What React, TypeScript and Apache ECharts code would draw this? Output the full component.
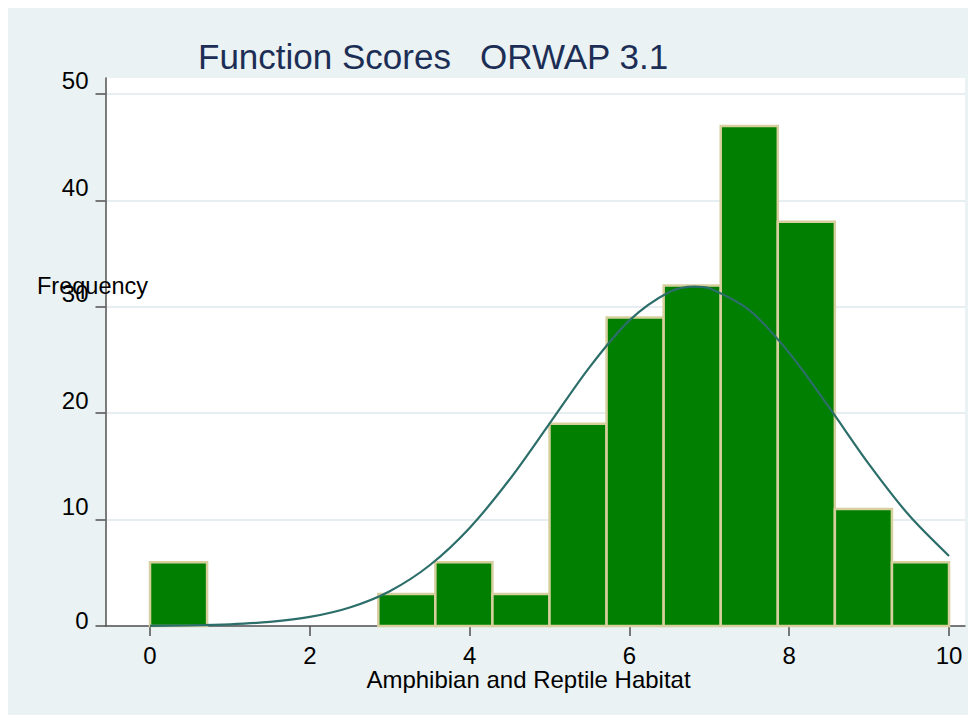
import React, { useEffect, useRef } from "react";
import * as echarts from "echarts";

// Histogram bins (14 equal bins from 0 to 10)
const binMin = 0;
const binMax = 10;
const counts = [6, 0, 0, 0, 3, 6, 3, 19, 29, 32, 47, 38, 11, 6];

// Normal density curve (scaled to frequency)
const curveX = [0, 0.5, 1, 1.5, 2, 2.5, 3, 3.5, 4, 4.5, 5, 5.5, 6, 6.5, 6.82, 7, 7.5, 8, 8.5, 9, 9.5, 10];
const curveY = [0.02, 0.06, 0.16, 0.39, 0.85, 1.74, 3.27, 5.71, 9.22, 13.77, 19.02, 24.31, 28.72, 31.39, 31.9, 31.74, 29.68, 25.67, 20.54, 15.19, 10.4, 6.58];

const xTicks = [0, 2, 4, 6, 8, 10];
const yTicks = [0, 10, 20, 30, 40, 50];

const titleText = "Function Scores   ORWAP 3.1";
const xTitle = "Amphibian and Reptile Habitat";
const yTitle = "Frequency";

const FONT = "'Liberation Sans', Arial, Helvetica, sans-serif";

export default function App() {
  const ref = useRef<HTMLDivElement>(null);
  useEffect(() => {
    document.documentElement.style.overflow = "hidden";
    const chart = echarts.init(ref.current!, null, { renderer: "svg" });
    const binWidth = (binMax - binMin) / counts.length;
    const barData = counts.map((c, i) => [binMin + i * binWidth, binMin + (i + 1) * binWidth, c]);
    const lineData = curveX.map((x, i) => [x, curveY[i]]);
    const axisColor = "#505050";
    chart.setOption({
      animation: false,
      backgroundColor: "#EAF2F3",
      grid: {
        left: 97.5,
        top: 70,
        width: 859.5,
        height: 548,
        show: true,
        backgroundColor: "#FFFFFF",
        borderWidth: 0,
      },
      xAxis: {
        type: "value",
        min: -0.557,
        max: 10.2,
        axisLine: { show: true, onZero: false, lineStyle: { color: axisColor, width: 1.5 } },
        axisTick: { show: true, length: 10, customValues: xTicks, lineStyle: { color: axisColor, width: 1.5 } },
        axisLabel: {
          customValues: xTicks,
          margin: 17,
          fontSize: 24,
          fontFamily: FONT,
          color: "#000000",
        },
        splitLine: { show: false },
      },
      yAxis: {
        type: "value",
        min: 0,
        max: 51.5,
        axisLine: { show: true, onZero: false, lineStyle: { color: axisColor, width: 1.5 } },
        axisTick: { show: true, length: 10, customValues: yTicks, lineStyle: { color: axisColor, width: 1.5 } },
        axisLabel: {
          customValues: yTicks,
          margin: 17,
          fontSize: 24,
          fontFamily: FONT,
          color: "#000000",
          formatter: (v: number) => (v === 0 ? `{z|${v}}` : `{a|${v}}`),
          rich: {
            a: { fontSize: 24, fontFamily: FONT, color: "#000000", padding: [0, 0, 26, 0] },
            z: { fontSize: 24, fontFamily: FONT, color: "#000000", padding: [0, 0, 12, 0] },
          },
        },
        splitLine: { show: true, lineStyle: { color: "#E6EEF1", width: 2 } },
      },
      graphic: [
        {
          type: "text",
          x: 190,
          y: 48,
          style: {
            text: titleText,
            fontSize: 35,
            fontFamily: FONT,
            fill: "#1C2E55",
            textAlign: "left",
            textVerticalAlign: "middle",
          },
        },
        {
          type: "text",
          x: 520.5,
          y: 671,
          style: {
            text: xTitle,
            fontSize: 24,
            fontFamily: FONT,
            fill: "#000000",
            textAlign: "center",
            textVerticalAlign: "middle",
          },
          z: 10,
        },
        {
          type: "text",
          x: 29,
          y: 278,
          style: {
            text: yTitle,
            fontSize: 23.5,
            fontFamily: FONT,
            fill: "#000000",
            textAlign: "left",
            textVerticalAlign: "middle",
          },
          z: 10,
        },
      ],
      series: [
        {
          type: "custom",
          z: 2,
          encode: { x: [0, 1], y: 2 },
          data: barData,
          renderItem: (params: any, api: any) => {
            const lo = api.value(0);
            const hi = api.value(1);
            const c = api.value(2);
            if (!c) return { type: "group", children: [] };
            const p0 = api.coord([lo, c]);
            const p1 = api.coord([hi, 0]);
            return {
              type: "rect",
              shape: { x: p0[0], y: p0[1], width: p1[0] - p0[0], height: p1[1] - p0[1] },
              style: { fill: "#007F00", stroke: "#D8CF9F", lineWidth: 2.5 },
            };
          },
        },
        {
          type: "line",
          z: 3,
          data: lineData,
          smooth: 0.3,
          showSymbol: false,
          symbol: "none",
          lineStyle: { color: "#2C6E6A", width: 2.2 },
        },
      ],
    });
    return () => chart.dispose();
  }, []);
  return <div ref={ref} style={{ width: 968, height: 707 }} />;
}
